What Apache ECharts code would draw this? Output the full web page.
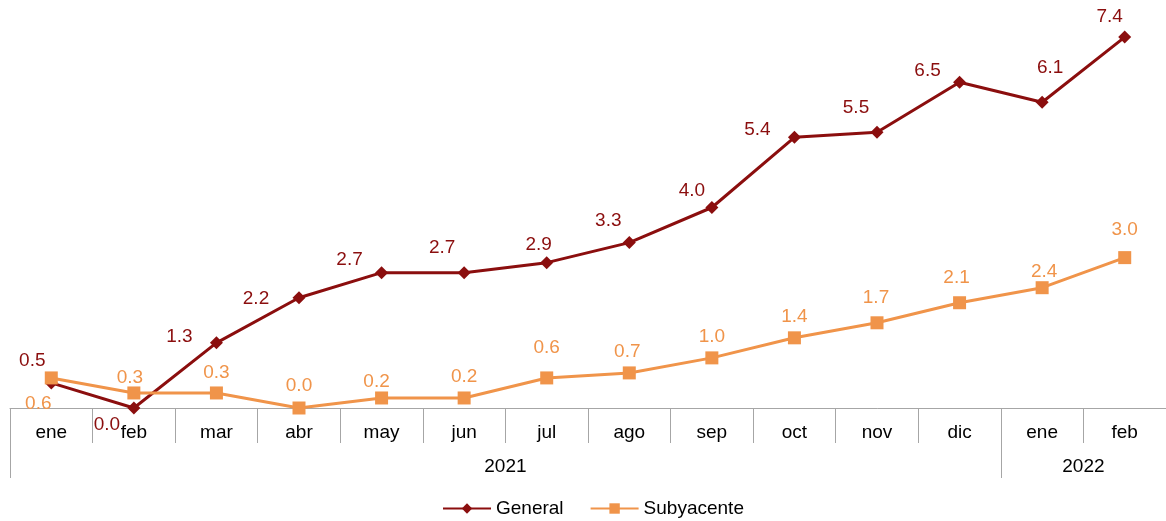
<!DOCTYPE html>
<html>
<head>
<meta charset="utf-8">
<script src="https://cdn.jsdelivr.net/npm/echarts@6/dist/echarts.min.js"></script>
<style>
html,body{margin:0;padding:0;background:#fff;}
#chart{width:1166px;height:521px;}
</style>
</head>
<body>
<div id="chart"></div>
<script>
const months = ['ene','feb','mar','abr','may','jun','jul','ago','sep','oct','nov','dic','ene','feb'];
const years = ['2021','2022'];
const general = [0.5,0.0,1.3,2.2,2.7,2.7,2.9,3.3,4.0,5.4,5.5,6.5,6.1,7.4];
const subyacente = [0.6,0.3,0.3,0.0,0.2,0.2,0.6,0.7,1.0,1.4,1.7,2.1,2.4,3.0];

// label placement (layout only)
const genOffsets = [[-19,-22],[-27,17],[-37,-6],[-43,1],[-32,-13],[-22,-25],[-8,-18],[-21,-22],[-20,-17],[-37,-8],[-21,-25],[-32,-11],[8,-34],[-15,-20]];
const subOffsets = [[-13,26],[-4,-15],[0,-20],[0,-22],[-5,-16],[0,-21],[0,-30],[-2,-21],[0,-21],[0,-21],[-1,-25],[-3,-25],[2,-16],[0,-28]];

const cGen = '#8B0E0E';
const cSub = '#F0944A';
const font = '"Liberation Sans", Arial, sans-serif';
const fs = 19;

function items(vals, offs){
  return vals.map((v,i)=>({value:v,label:{offset:offs[i]}}));
}

const chart = echarts.init(document.getElementById('chart'));
chart.setOption({
  animation:false,
  textStyle:{fontFamily:font},
  grid:{left:10,right:0,top:7,bottom:113,containLabel:false},
  legend:{
    bottom:-2,left:437,itemWidth:48,itemHeight:13,itemGap:26,
    textStyle:{fontSize:fs,color:'#000',fontFamily:font},
    data:['General','Subyacente']
  },
  xAxis:[{
    type:'category',data:months,boundaryGap:true,
    axisLine:{show:true,lineStyle:{color:'#a6a6a6',width:1}},
    axisTick:{show:true,interval:0,length:35,lineStyle:{color:'#a6a6a6'}},
    axisLabel:{interval:0,margin:15,fontSize:fs,color:'#000',fontFamily:font},
    splitLine:{show:false}
  },{
    type:'value',min:0,max:14,position:'bottom',
    axisLine:{show:false},
    axisTick:{show:true,length:70,customValues:[0,12],lineStyle:{color:'#a6a6a6'}},
    axisLabel:{show:true,margin:49,fontSize:fs,color:'#000',fontFamily:font,
      customValues:[6,13],formatter:v=>v<12?years[0]:years[1]},
    splitLine:{show:false}
  }],
  yAxis:{type:'value',min:0,max:8,show:false,splitLine:{show:false}},
  series:[{
    name:'General',type:'line',data:items(general,genOffsets),
    symbol:'diamond',symbolSize:13,
    lineStyle:{color:cGen,width:3},itemStyle:{color:cGen},
    label:{show:true,position:'inside',color:cGen,fontSize:fs,fontFamily:font,formatter:p=>p.value.toFixed(1)}
  },{
    name:'Subyacente',type:'line',data:items(subyacente,subOffsets),
    symbol:'rect',symbolSize:13,
    lineStyle:{color:cSub,width:3},itemStyle:{color:cSub},
    label:{show:true,position:'inside',color:cSub,fontSize:fs,fontFamily:font,formatter:p=>p.value.toFixed(1)}
  }]
});
</script>
</body>
</html>
